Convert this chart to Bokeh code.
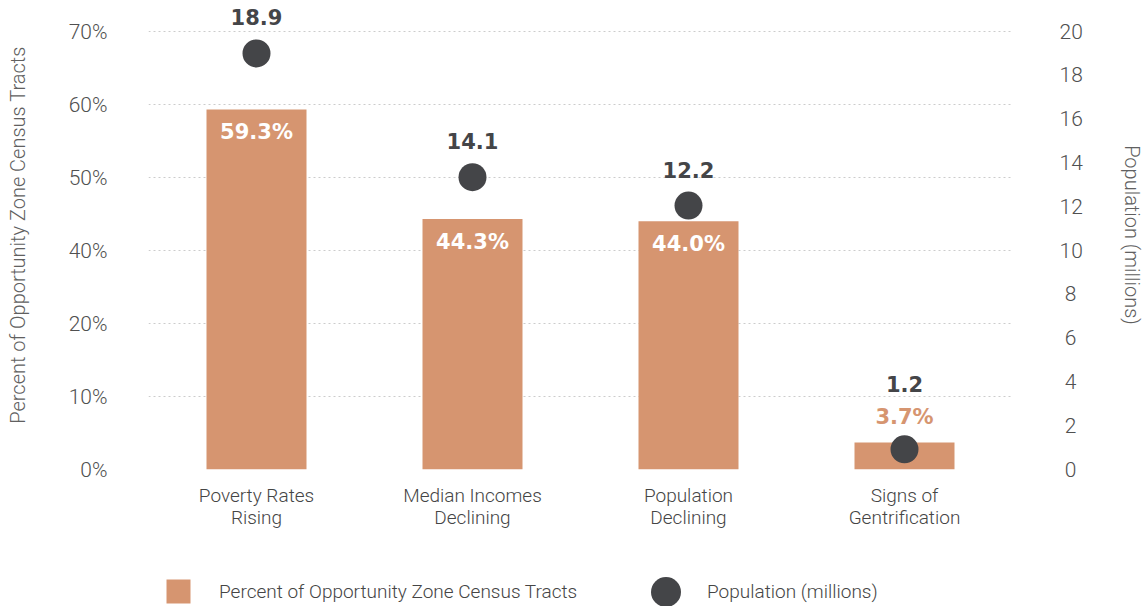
import numpy as np
from bokeh.plotting import figure
from bokeh.layouts import column
from bokeh.models import (ColumnDataSource, Range1d, LinearAxis, FixedTicker,
                          Legend, LegendItem, LabelSet)
from bokeh.core.properties import value
from bokeh.embed import file_html
from bokeh.resources import INLINE

# ---------------- data ----------------
categories = ["Poverty Rates Rising", "Median Incomes Declining",
              "Population Declining", "Signs of Gentrification"]
category_line1 = ["Poverty Rates", "Median Incomes", "Population", "Signs of"]
category_line2 = ["Rising", "Declining", "Declining", "Gentrification"]
pct_tracts = [59.3, 44.3, 44.0, 3.7]
pct_text = ["59.3%", "44.3%", "44.0%", "3.7%"]
population = [18.9, 14.1, 12.2, 1.2]
population_text = ["18.9", "14.1", "12.2", "1.2"]
# heights at which the original draws the population dots
population_marker = [19.0, 13.35, 12.05, 0.92]
pct_ticks = [0, 10, 20, 40, 50, 60, 70]
pct_tick_labels = ["0%", "10%", "20%", "40%", "50%", "60%", "70%"]
pop_ticks = [0, 2, 4, 6, 8, 10, 12, 14, 16, 18, 20]
pop_tick_labels = ["0", "2", "4", "6", "8", "10", "12", "14", "16", "18", "20"]

BAR = "#D69570"
DOT = "#444548"
FONT = "Roboto Light"
BOLD_FONT = "DejaVu Sans"
TICK_COL = "#505050"
TITLE_COL = "#606060"
TEXT_COL = "#454545"

# category slots on a numeric axis (centre of each slot)
x_pos = [i + 0.5 for i in range(len(categories))]
# the original's left axis gives one equal step to each labelled gridline
slots = [10 * i for i in range(len(pct_ticks))]
bar_pos = list(np.interp(pct_tracts, pct_ticks, slots))

W = 1148
H1, H2 = 540, 66
FL, FR, FB = 148, 1012, 469      # frame left / right / bottom (pixels)
TOPGRID = 31                     # pixel row of the top gridline
px_pos = (FB - TOPGRID) / slots[-1]
px_pop = (FB - TOPGRID) / pop_ticks[-1]

inside = [v >= 10 for v in pct_tracts]
bar_lab_off = [-22.5 if i else 25 for i in inside]
bar_lab_col = ["#ffffff" if i else BAR for i in inside]
pop_lab_off = []
for pos, pm, i in zip(bar_pos, population_marker, inside):
    if i:
        pop_lab_off.append(36)
    else:
        pop_lab_off.append(pos * px_pos + 25 + 33 - pm * px_pop)

src = ColumnDataSource(dict(x=x_pos, cat=categories, pos=bar_pos, pct_text=pct_text,
                            bar_off=bar_lab_off, bar_col=bar_lab_col,
                            pop=population_marker, pop_text=population_text,
                            pop_off=pop_lab_off))

p = figure(width=W, height=H1, x_range=Range1d(0, len(categories)),
           y_range=Range1d(0, FB / px_pos), output_backend="svg",
           toolbar_location=None,
           min_border_left=FL, min_border_right=W - FR,
           min_border_top=0, min_border_bottom=H1 - FB)
p.extra_y_ranges = {"pop": Range1d(0, FB / px_pop)}
p.outline_line_color = None
p.background_fill_color = None
p.border_fill_color = "white"

p.xgrid.grid_line_color = None
p.ygrid.ticker = FixedTicker(ticks=slots)
p.ygrid.grid_line_color = "#cccccc"
p.ygrid.grid_line_dash = "2 3"
p.ygrid.grid_line_width = 1

bars = p.vbar(x="x", top="pos", width=100 / 216, source=src,
              fill_color=BAR, line_color=None)
dots = p.scatter(x="x", y="pop", y_range_name="pop", size=28, source=src,
                 fill_color=DOT, line_color=None)

# left axis
ya = p.yaxis[0]
ya.ticker = FixedTicker(ticks=slots)
ya.major_label_overrides = {s: l for s, l in zip(slots, pct_tick_labels)}
ya.axis_line_color = None
ya.major_tick_line_color = None
ya.minor_tick_line_color = None
ya.major_tick_out = 0
ya.major_label_standoff = 41
ya.major_label_text_font = FONT
ya.major_label_text_font_size = "21px"
ya.major_label_text_color = TICK_COL
ya.axis_label = "Percent of Opportunity Zone Census Tracts"
ya.axis_label_text_font = FONT
ya.axis_label_text_font_size = "20px"
ya.axis_label_text_font_style = "normal"
ya.axis_label_text_color = TITLE_COL
ya.axis_label_standoff = 36

# right axis (single digits padded so the labels sit centred like the original)
ra = LinearAxis(y_range_name="pop", ticker=FixedTicker(ticks=pop_ticks),
                axis_label="Population (millions)")
ra.major_label_overrides = {t: (l if len(l) > 1 else "\u2005" + l)
                            for t, l in zip(pop_ticks, pop_tick_labels)}
ra.axis_line_color = None
ra.major_tick_line_color = None
ra.minor_tick_line_color = None
ra.major_tick_out = 0
ra.major_label_standoff = 47
ra.major_label_text_font = FONT
ra.major_label_text_font_size = "21px"
ra.major_label_text_color = TICK_COL
ra.axis_label_text_font = FONT
ra.axis_label_text_font_size = "20px"
ra.axis_label_text_font_style = "normal"
ra.axis_label_text_color = TITLE_COL
ra.axis_label_standoff = 34
p.add_layout(ra, "right")

# bottom axes: one per text line of the category names
def style_x(ax, lines, standoff):
    ax.ticker = FixedTicker(ticks=x_pos)
    ax.major_label_overrides = {x: l for x, l in zip(x_pos, lines)}
    ax.axis_line_color = None
    ax.major_tick_line_color = None
    ax.minor_tick_line_color = None
    ax.major_tick_out = 0
    ax.major_tick_in = 0
    ax.major_label_standoff = standoff
    ax.major_label_text_font = FONT
    ax.major_label_text_font_size = "19px"
    ax.major_label_text_color = TEXT_COL

style_x(p.xaxis[0], category_line1, 14)
xa2 = LinearAxis()
style_x(xa2, category_line2, -4)
p.add_layout(xa2, "below")

# value labels
bar_labels = LabelSet(x="x", y="pos", text="pct_text", source=src,
                      y_offset="bar_off", text_color="bar_col",
                      text_align="center", text_baseline="middle",
                      text_font=value(BOLD_FONT), text_font_style="bold",
                      text_font_size="21px")
pop_labels = LabelSet(x="x", y="pop", y_range_name="pop", text="pop_text",
                      source=src, y_offset="pop_off", text_color=DOT,
                      text_align="center", text_baseline="middle",
                      text_font=value(BOLD_FONT), text_font_style="bold",
                      text_font_size="21px")
p.add_layout(bar_labels)
p.add_layout(pop_labels)

# ---------------- legend strip (frame aligned with the chart's frame) ----------------
q = figure(width=W, height=H2, x_range=Range1d(0, 1), y_range=Range1d(0, 1),
           x_axis_type=None, y_axis_type=None, output_backend="svg",
           toolbar_location=None, min_border=0)
q.outline_line_color = None
q.grid.grid_line_color = None
# swatch renderers kept outside the strip's visible range; only the legends show them
swatch = ColumnDataSource(dict(x=[-5], y=[-5]))
lg_bar = q.vbar(x="x", top="y", width=0.1, source=swatch, fill_color=BAR, line_color=None)
lg_dot = q.scatter(x="x", y="y", size=30, source=swatch, fill_color=DOT, line_color=None)

common = dict(orientation="horizontal", padding=0, margin=0,
              border_line_color=None, background_fill_alpha=0,
              label_text_font=FONT, label_text_font_size="19px",
              label_text_color=TEXT_COL)
# square swatch: 30x30 box
legend_bar = Legend(items=[LegendItem(label="Percent of Opportunity Zone Census Tracts",
                                      renderers=[lg_bar])],
                    location=(15, 0), glyph_width=30, glyph_height=30,
                    label_standoff=26, label_height=30, **common)
# marker swatches are drawn at 0.4 of the box, so a 75px box gives a 30px dot
legend_dot = Legend(items=[LegendItem(label="Population (millions)", renderers=[lg_dot])],
                    location=(480, -23), glyph_width=75, glyph_height=75,
                    label_standoff=4, label_height=30, **common)
q.add_layout(legend_bar)
q.add_layout(legend_dot)

layout = column(p, q, spacing=0)
open("out.html", "w").write(file_html(layout, INLINE))
